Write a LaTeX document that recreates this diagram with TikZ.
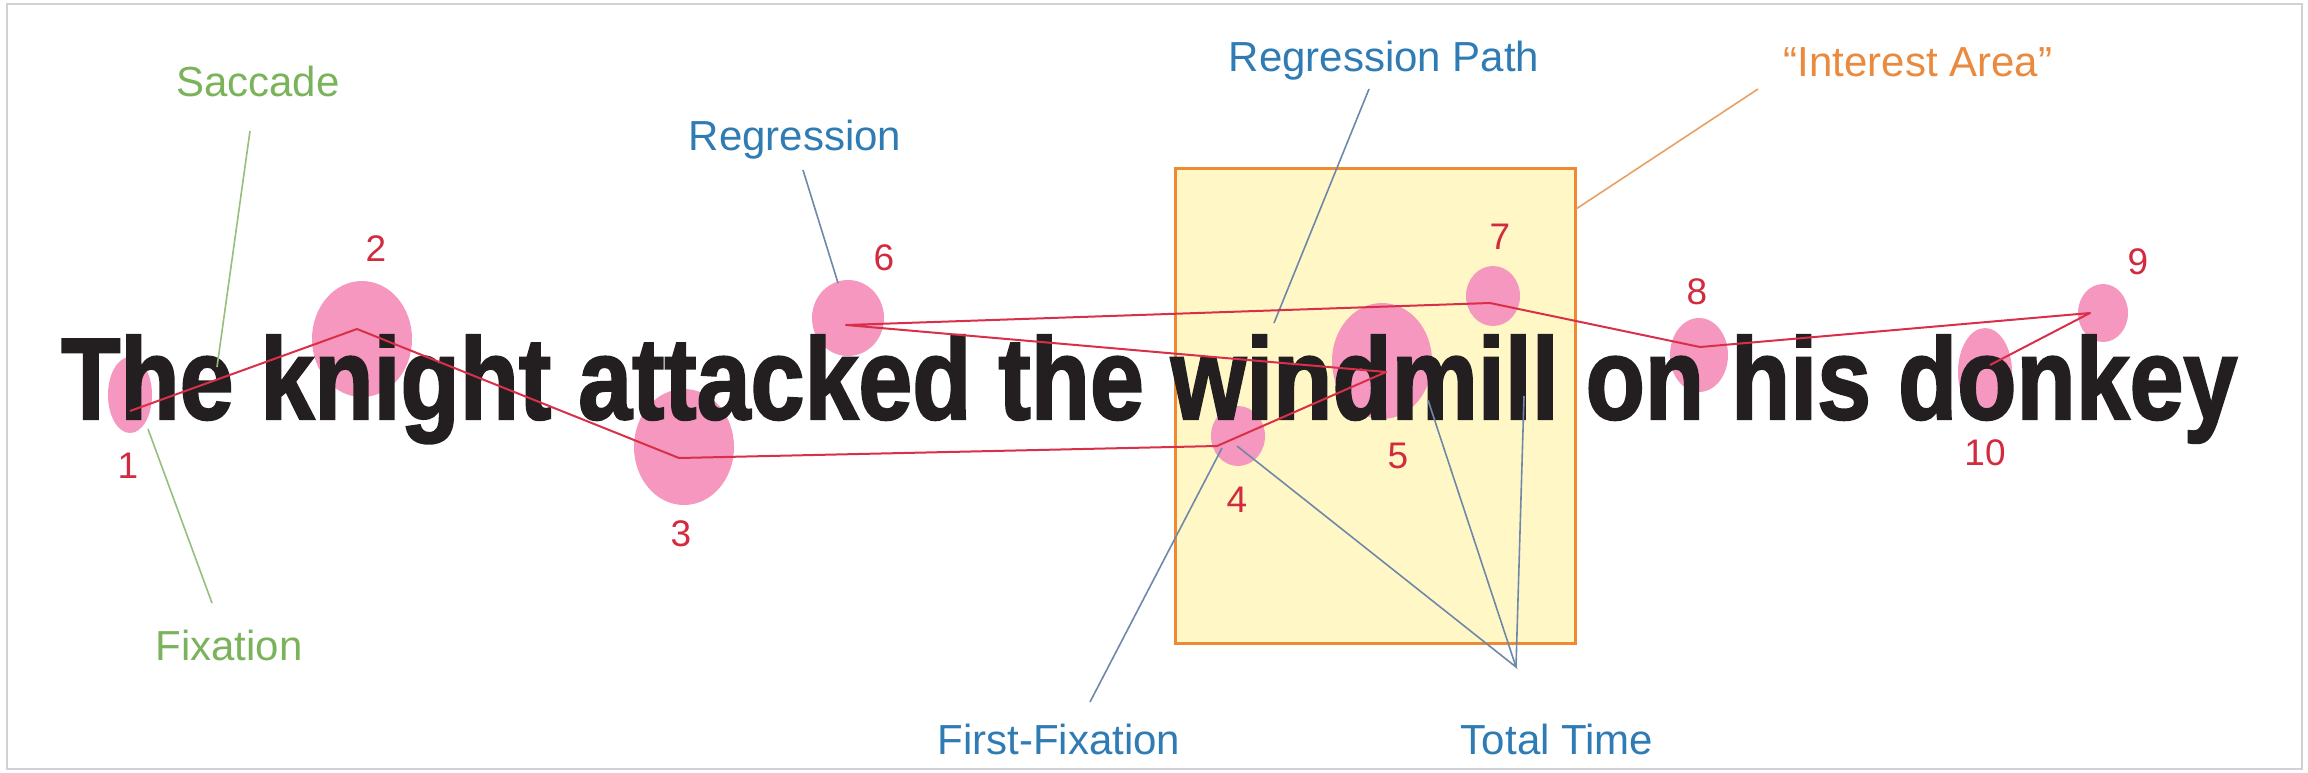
\documentclass[tikz,border=0pt]{standalone}
\usepackage{fontspec}
\setmainfont{Liberation Sans}
\newfontfamily\sentfont[BoldFeatures={FakeBold=2}]{Liberation Sans}
\usetikzlibrary{shapes.geometric}
\definecolor{fixpink}{HTML}{F597BE}
\definecolor{numred}{HTML}{D22B3F}
\definecolor{pathred}{HTML}{D9304A}
\definecolor{labgreen}{HTML}{7BB35A}
\definecolor{lingreen}{HTML}{96BE7E}
\definecolor{labblue}{HTML}{2F7BB4}
\definecolor{linblue}{HTML}{6F88AA}
\definecolor{labor}{HTML}{E98A3E}
\definecolor{linor}{HTML}{E9A064}
\definecolor{boxfill}{HTML}{FFF8C6}
\definecolor{boxline}{HTML}{EE8A33}
\definecolor{inkblack}{HTML}{231F20}
\tikzset{
  fixell/.style={ellipse, fill=fixpink, draw=none, inner sep=0pt},
  num/.style={text=numred, font=\fontsize{37}{40}\selectfont, anchor=base, inner sep=0pt},
  lab/.style={font=\fontsize{42}{48}\selectfont, anchor=base, inner sep=0pt},
  glab/.style={lab, text=labgreen},
  blab/.style={lab, text=labblue},
  olab/.style={lab, text=labor},
  gline/.style={draw=lingreen, line width=1.6pt},
  bline/.style={draw=linblue, line width=1.6pt},
  oline/.style={draw=linor, line width=1.6pt},
  scanpath/.style={draw=pathred, line width=2pt, line join=round},
}
\begin{document}
\begin{tikzpicture}[x=1pt, y=-1pt]
\useasboundingbox (0,0) rectangle (2308,772);
\fill[white] (0,0) rectangle (2308,772);
\draw[black!18, line width=1.5pt] (7,4) rectangle (2302,769);
% interest area
\node[draw=boxline, fill=boxfill, line width=3pt, minimum width=400pt, minimum height=475pt, inner sep=0pt] (ia) at (1375,405.5) {};
% fixations
\node[fixell, minimum width=44pt, minimum height=76pt] (f1) at (130,395) {};
\node[fixell, minimum width=100pt, minimum height=116pt] (f2) at (362,339) {};
\node[fixell, minimum width=100pt, minimum height=116pt] (f3) at (684,447) {};
\node[fixell, minimum width=54pt, minimum height=60pt] (f4) at (1238,436) {};
\node[fixell, minimum width=100pt, minimum height=116pt] (f5) at (1382,361) {};
\node[fixell, minimum width=72pt, minimum height=76pt] (f6) at (848,318) {};
\node[fixell, minimum width=54pt, minimum height=60pt] (f7) at (1493,296) {};
\node[fixell, minimum width=58pt, minimum height=74pt] (f8) at (1699,355) {};
\node[fixell, minimum width=50pt, minimum height=58pt] (f9) at (2103,313) {};
\node[fixell, minimum width=54pt, minimum height=88pt] (f10) at (1985,372) {};
% sentence
\node[anchor=base west, inner sep=0pt, text=inkblack] (sent) at (61,419)
  {\resizebox{2174pt}{84pt}{\sentfont\bfseries The knight attacked the windmill on his donkey}};
% numbers
\node[num] (n1) at (128,478) {1};
\node[num] (n2) at (376,261) {2};
\node[num] (n3) at (681,546) {3};
\node[num] (n4) at (1237,512) {4};
\node[num] (n5) at (1398,468) {5};
\node[num] (n6) at (884,270) {6};
\node[num] (n7) at (1500,249) {7};
\node[num] (n8) at (1697,304) {8};
\node[num] (n9) at (2138,274) {9};
\node[num] (n10) at (1985,465) {10};
% labels
\node[glab] (sac) at (258,96) {Saccade};
\node[glab] (fixl) at (229,660) {Fixation};
\node[blab] (reg) at (795,150) {Regression};
\node[blab] (regp) at (1384,71) {Regression Path};
\node[olab] (intl) at (1918,76) {“Interest Area”};
\node[blab] (ffix) at (1059,754) {First-Fixation};
\node[blab] (tott) at (1557,754) {Total Time};
% connector ends
\coordinate (sacA) at (250,131);  \coordinate (sacB) at (217,367);
\coordinate (fixA) at (212,603);  \coordinate (fixB) at (148,429);
\coordinate (regA) at (803,170);  \coordinate (regB) at (838,283);
\coordinate (rpA) at (1369,89);   \coordinate (rpB) at (1274,323);
\coordinate (iaA) at (1758,89);   \coordinate (iaB) at (1576,209);
\coordinate (ffA) at (1090,702);  \coordinate (ffB) at (1222,448);
\coordinate (ttA) at (1516,667);
\coordinate (tt4) at (1237,446);  \coordinate (tt5) at (1428,400);  \coordinate (tt7) at (1524,396);
\draw[gline] (sacA) -- (sacB);
\draw[gline] (fixA) -- (fixB);
\draw[bline] (regA) -- (regB);
\draw[bline] (rpA) -- (rpB);
\draw[oline] (iaA) -- (iaB);
\draw[bline] (ffA) -- (ffB);
\draw[bline] (tt4) -- (ttA) -- (tt5);
\draw[bline] (ttA) -- (tt7);
% scanpath vertices
\coordinate (v1) at (130,411);
\coordinate (v2) at (357,329);
\coordinate (v3) at (679,458);
\coordinate (v4) at (1217,446);
\coordinate (v5) at (1386,372);
\coordinate (v6) at (846,325);
\coordinate (v7) at (1490,303);
\coordinate (v8) at (1700,347);
\coordinate (v9) at (2090,313);
\coordinate (v10) at (1990,365);
\draw[scanpath] (v1) -- (v2) -- (v3) -- (v4) -- (v5) -- (v6) -- (v7) -- (v8) -- (v9) -- (v10);
\end{tikzpicture}
\end{document}
